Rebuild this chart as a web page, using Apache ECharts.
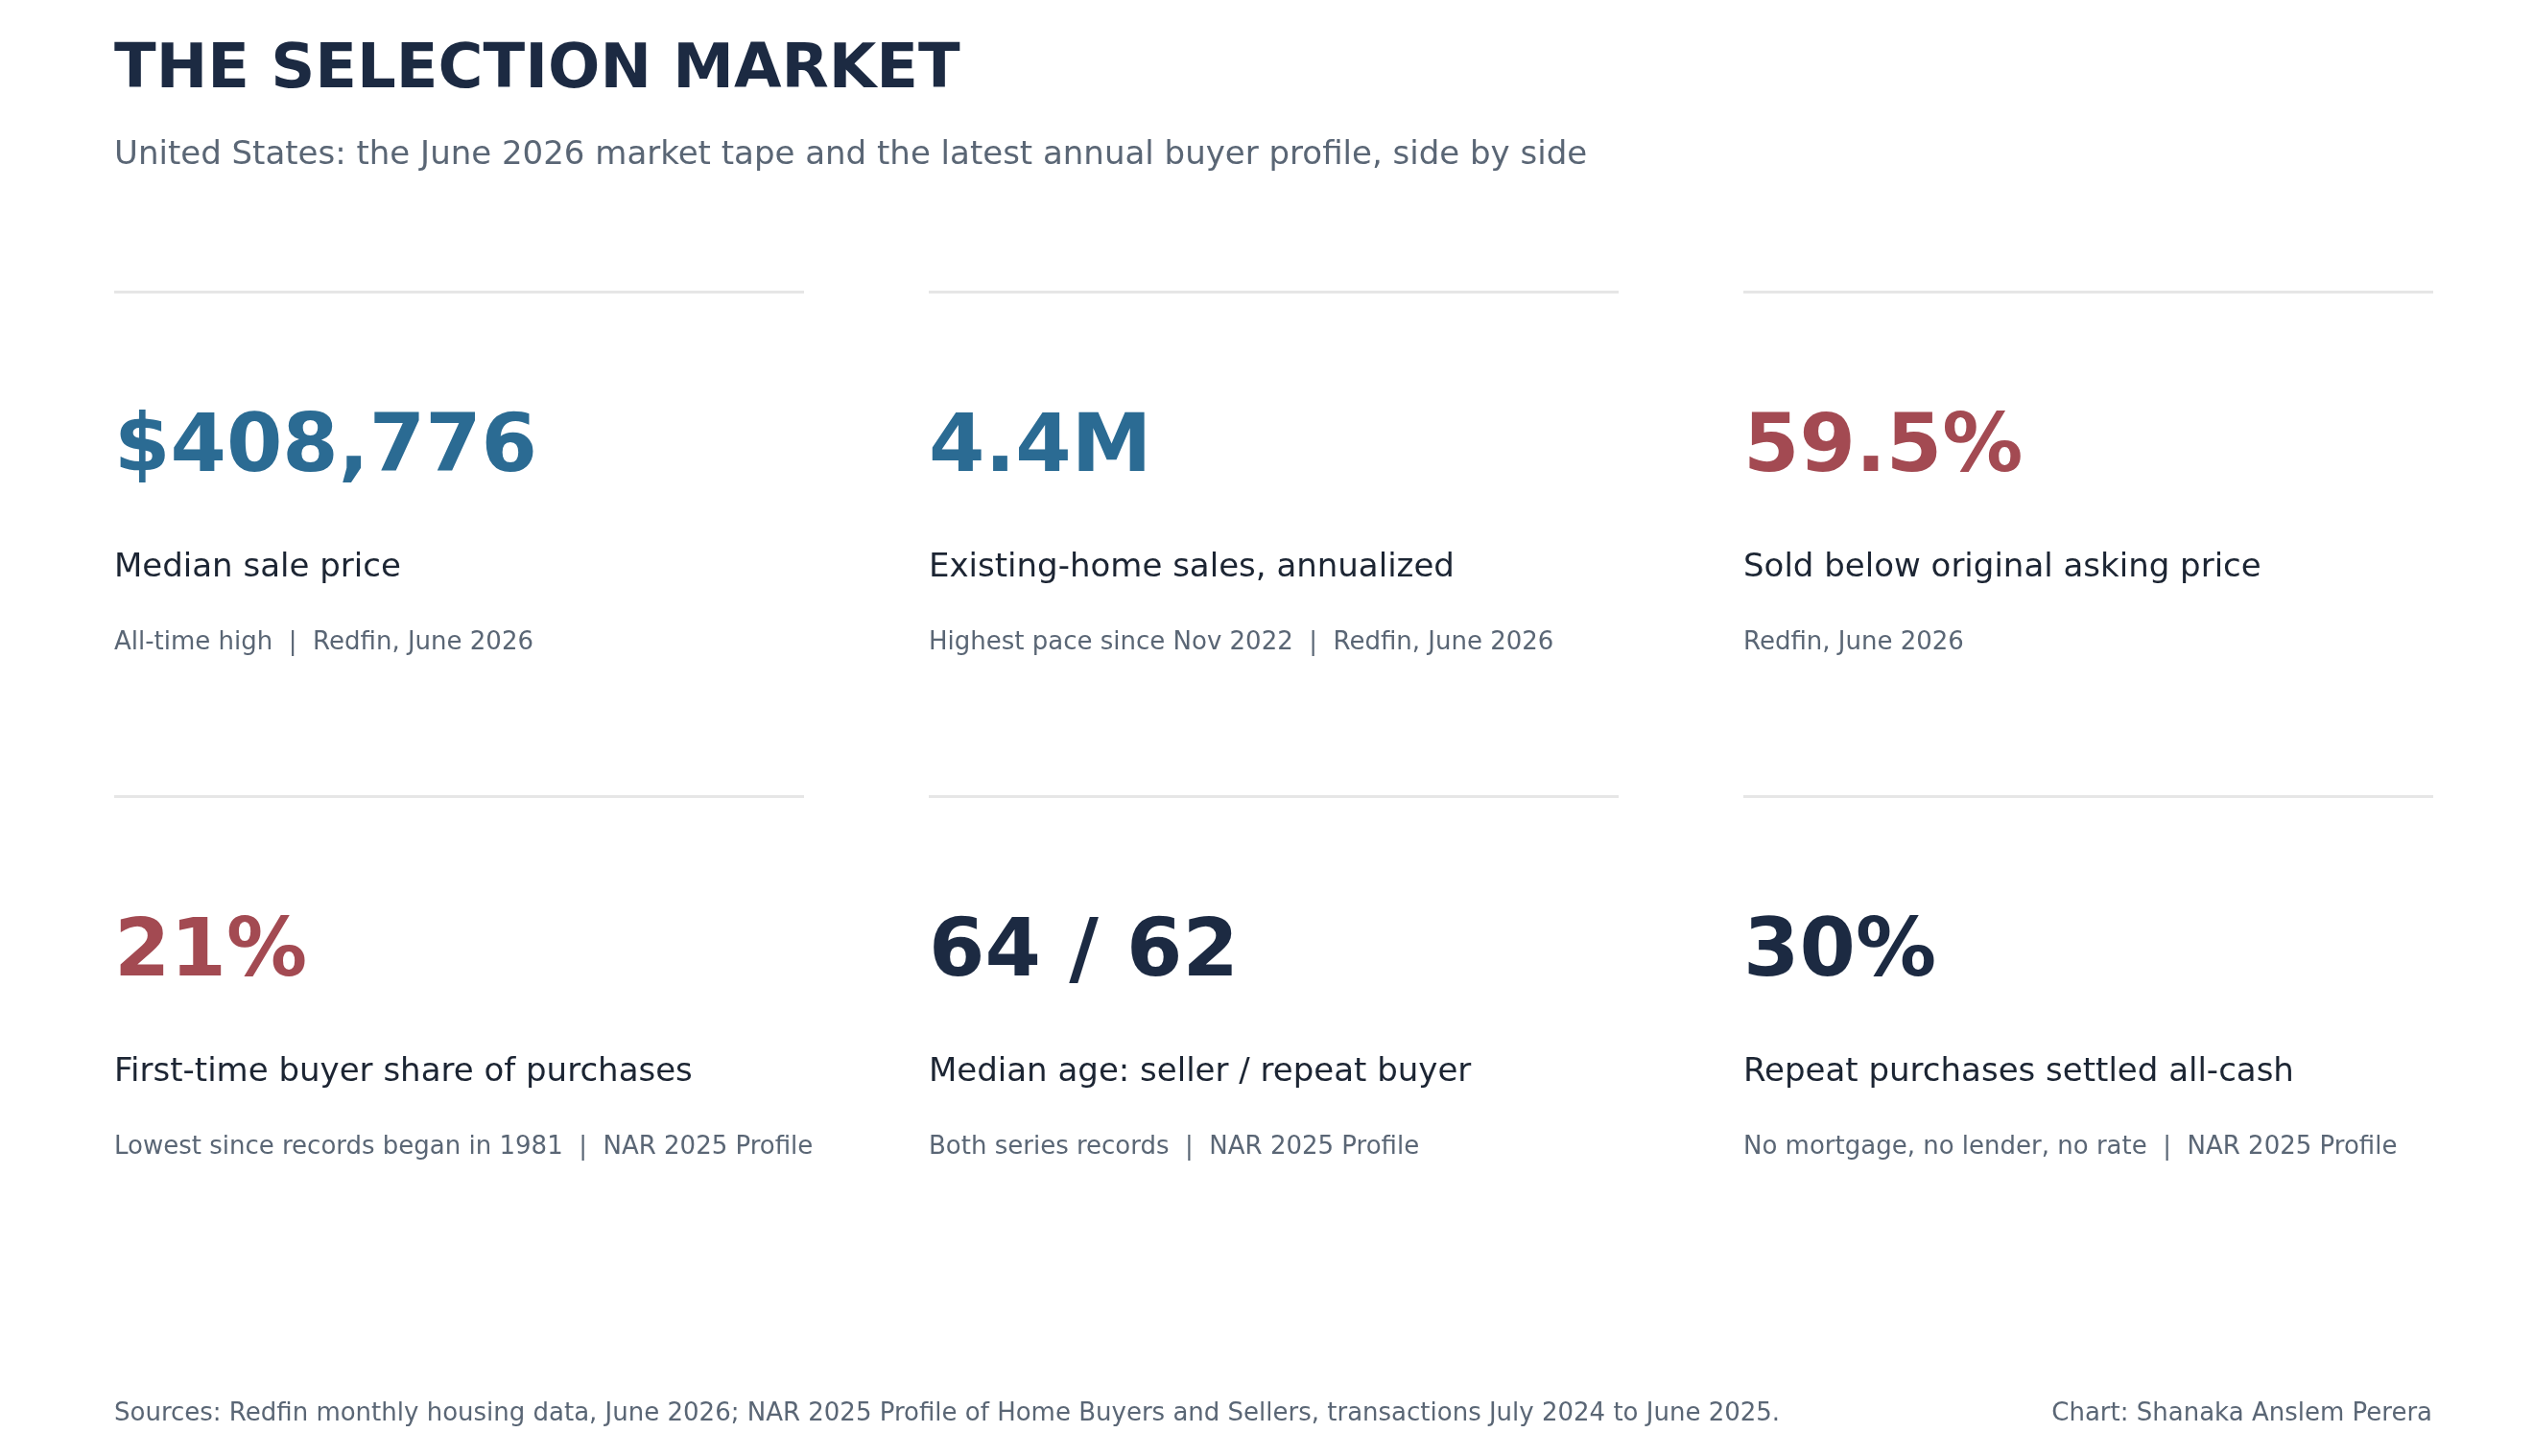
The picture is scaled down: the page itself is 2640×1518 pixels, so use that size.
<!DOCTYPE html>
<html><head><meta charset="utf-8">
<script src="https://cdn.jsdelivr.net/npm/echarts@6/dist/echarts.min.js"></script>
<style>html,body{margin:0;padding:0;background:#fff}#c{width:2640px;height:1518px}</style>
</head><body><div id="c"></div>
<script>
const values = ["$408,776","4.4M","59.5%","21%","64 / 62","30%"];
const labels = ["Median sale price","Existing-home sales, annualized","Sold below original asking price",
  "First-time buyer share of purchases","Median age: seller / repeat buyer","Repeat purchases settled all-cash"];
const notes = ["All-time high  |  Redfin, June 2026","Highest pace since Nov 2022  |  Redfin, June 2026","Redfin, June 2026",
  "Lowest since records began in 1981  |  NAR 2025 Profile","Both series records  |  NAR 2025 Profile","No mortgage, no lender, no rate  |  NAR 2025 Profile"];
const tones = ["blue","blue","red","red","dark","dark"];
const palette = {blue:"#2b6b93", red:"#a34a52", dark:"#1c2a42"};
const F = "DejaVu Sans";
const colX = [119, 968, 1817], colW = 719, rowY = [305, 831];
const els = [];
els.push({type:'text',left:119,top:42,style:{text:"THE SELECTION MARKET",font:`bold 64px "${F}"`,fill:"#1c2a42"}});
els.push({type:'text',left:119,top:145,style:{text:"United States: the June 2026 market tape and the latest annual buyer profile, side by side",font:`34px "${F}"`,fill:"#5a6675"}});
values.forEach((v,i)=>{
  const x = colX[i%3], y = rowY[Math.floor(i/3)];
  els.push({type:'rect',shape:{x:x,y:y-2,width:colW,height:3},style:{fill:"#e6e6e6"}});
  els.push({type:'text',x:x,y:y+164,style:{text:v,font:`bold 84px "${F}"`,fill:palette[tones[i]],textVerticalAlign:'middle'}});
  els.push({type:'text',x:x,y:y+287,style:{text:labels[i],font:`34px "${F}"`,fill:"#1c2533",textVerticalAlign:'middle'}});
  els.push({type:'text',x:x,y:y+365,style:{text:notes[i],font:`26px "${F}"`,fill:"#5a6675",textVerticalAlign:'middle'}});
});
els.push({type:'text',x:119,y:1474,style:{text:"Sources: Redfin monthly housing data, June 2026; NAR 2025 Profile of Home Buyers and Sellers, transactions July 2024 to June 2025.",font:`26px "${F}"`,fill:"#5a6675",textVerticalAlign:'middle'}});
els.push({type:'text',x:2535,y:1474,style:{text:"Chart: Shanaka Anslem Perera",font:`26px "${F}"`,fill:"#5a6675",textAlign:'right',textVerticalAlign:'middle'}});
const chart = echarts.init(document.getElementById('c'));
chart.setOption({backgroundColor:'#fff',graphic:els});
</script></body></html>
